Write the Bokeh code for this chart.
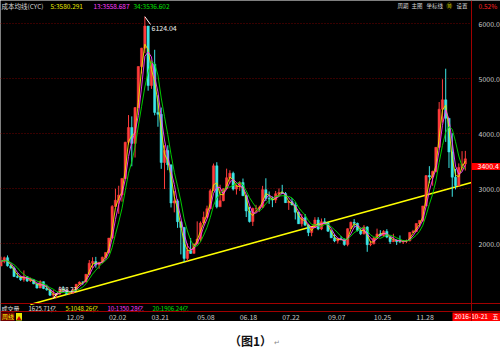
import pandas as pd
from bokeh.plotting import figure
from bokeh.models import Range1d, Label, Span, ColumnDataSource
from bokeh.core.properties import value
from bokeh.layouts import column
from bokeh.embed import file_html
from bokeh.resources import INLINE

# ---------------- data (monthly bars Feb-2004 .. Dec-2015) -------------
first_open = 1590
closes = [1675, 1742, 1595, 1555, 1399, 1386, 1342, 1396, 1320, 1340, 1266,
          1191, 1306, 1181, 1159, 1060, 1080, 1083, 1162, 1155, 1092, 1099, 1161,
          1258, 1299, 1298, 1440, 1641, 1672, 1612, 1658, 1752, 1837, 2099, 2675,
          2786, 2881, 3183, 3841, 4109, 3820, 4471, 5218, 5552, 5954, 4871, 5261,
          4383, 4348, 3473, 3693, 3433, 2736, 2775, 2397, 2293, 1729, 1871, 1820,
          1990, 2082, 2373, 2477, 2633, 2959, 3412, 2667, 2779, 2996, 3195, 3277,
          2989, 3052, 3109, 2870, 2592, 2398, 2638, 2638, 2656, 2979, 2820, 2808,
          2790, 2905, 2928, 2911, 2743, 2762, 2701, 2568, 2359, 2468, 2333, 2199,
          2292, 2428, 2263, 2396, 2373, 2225, 2103, 2047, 2086, 2069, 1980, 2269,
          2385, 2366, 2237, 2177, 2301, 1979, 1994, 2098, 2175, 2141, 2220, 2116,
          2033, 2056, 2033, 2026, 2039, 2048, 2202, 2217, 2364, 2420, 2683, 3235,
          3210, 3310, 3748, 4442, 4612, 4277, 3664, 3206, 3053, 3383, 3445, 3539]
highs = [1760, 1762, 1783, 1620, 1580, 1460, 1410, 1510, 1400, 1380, 1350,
         1270, 1330, 1310, 1250, 1170, 1150, 1090, 1220, 1225, 1160, 1120, 1180,
         1265, 1310, 1310, 1445, 1700, 1750, 1757, 1665, 1760, 1840, 2100, 2698,
         2995, 3050, 3190, 3850, 4335, 4311, 4480, 5220, 5558, 6124.04, 5950, 5328,
         5522, 4695, 4472, 3786, 3786, 3420, 2952, 2805, 2333, 2300, 2000, 2100,
         2000, 2402, 2402, 2580, 2688, 2990, 3454, 3478, 3068, 3002, 3361, 3332,
         3306, 3071, 3132, 3181, 2875, 2667, 2653, 2702, 2688, 3048, 3186, 2946,
         2855, 2955, 3001, 3067, 2935, 2780, 2827, 2752, 2578, 2536, 2536, 2348,
         2297, 2478, 2478, 2454, 2461, 2380, 2242, 2172, 2103, 2137, 2092, 2276,
         2398, 2444, 2380, 2273, 2335, 2314, 2050, 2122, 2270, 2242, 2243, 2260,
         2126, 2177, 2076, 2146, 2062, 2071, 2205, 2248, 2365, 2420, 2683, 3239,
         3406, 3325, 3751, 4572, 4986, 5178, 4184, 4006, 3357, 3457, 3679, 3684]
lows = [1590, 1640, 1580, 1540, 1390, 1370, 1320, 1305, 1300, 1300, 1260,
        1180, 1190, 1170, 1140, 1045, 998.23, 1004, 1070, 1140, 1067, 1074, 1090,
        1160, 1250, 1250, 1295, 1430, 1550, 1560, 1541, 1640, 1740, 1820, 2080,
        2680, 2540, 2760, 3170, 3800, 3404, 3563, 4460, 5090, 5460, 4778, 4812,
        4330, 4123, 3357, 2990, 3333, 2655, 2566, 2284, 1802, 1664, 1679, 1814,
        1844, 2037, 2037, 2350, 2460, 2630, 2960, 2639, 2712, 2767, 2993, 3089,
        2963, 2890, 2956, 2861, 2481, 2382, 2319, 2573, 2575, 2654, 2773, 2721,
        2661, 2735, 2848, 2899, 2740, 2611, 2696, 2437, 2355, 2307, 2323, 2134,
        2132, 2281, 2242, 2243, 2357, 2211, 2099, 2024, 1999, 2058, 1959, 1949,
        2270, 2295, 2218, 2153, 2163, 1849, 1951, 1985, 2101, 2131, 2123, 2097,
        1991, 2026, 1974, 2015, 1991, 2010, 2039, 2191, 2214, 2302, 2390, 2672,
        3095, 3050, 3291, 3744, 4198, 3847, 3373, 2850, 2983, 3040, 3330, 3327]

x_ticks = [20, 33, 46, 60, 73, 86, 100, 114, 127]
x_tick_labels = ["12.09", "02.02", "03.21", "05.08", "06.18", "07.22", "09.07", "10.25", "11.28"]
y_ticks = [2000, 3000, 4000, 5000, 6000]

cyc_labels = ["5:3580.291", "13:3558.687", "34:3536.602"]
cyc_windows = [2, 3, 5]
cyc_colors = ["#e8e800", "#ff3cff", "#00e000"]
vol_labels = ["1625.71亿", "5:1048.26亿", "10:1350.28亿", "20:1906.24亿"]
vol_colors = ["#e0e0e0", "#e8e800", "#ff3cff", "#00e000"]

peak_bar, peak_value = 44, 6124.04
low_bar, low_value = 16, 998.23
last_price = 3400.4
trend_bars = [9.0, 143.9]
trend_prices = [891, 3109]

# ---------------- layout helpers (pixel -> data) ----------------
BAR_PX = 3.27
X0 = -0.15
W, H = 500, 321
CHART_R = 471          # right edge of the price chart (axis line)
Y6000_PX, PX_PER_1000 = 23, 55.0
FONT = "Noto Sans CJK SC"
RED = "#a00000"


def px2bar(px):
    return px / BAR_PX + X0


def py2price(py):
    return 6000 - (py - Y6000_PX) * 1000.0 / PX_PER_1000


n = len(closes)
idx = list(range(n))
opens = [first_open] + closes[:-1]
up = [c >= o for o, c in zip(opens, closes)]
src = ColumnDataSource(dict(
    x=idx, o=opens, c=closes, h=highs, l=lows,
    top=[max(o, c) for o, c in zip(opens, closes)],
    bot=[min(o, c) for o, c in zip(opens, closes)],
    col=["#ff3c3c" if u else "#3ce6e6" for u in up],
))

p = figure(width=W, height=H, output_backend="svg", toolbar_location=None, tools="",
           x_range=Range1d(px2bar(0), px2bar(W)),
           y_range=Range1d(py2price(H), py2price(0)),
           x_axis_location=None, y_axis_location=None,
           min_border=0, background_fill_color="black", border_fill_color="black")
p.outline_line_color = None
p.grid.visible = False


def text(px, py, t, color, size="6.5px", align="left", bold=False):
    p.text(x=[px2bar(px)], y=[py2price(py)], text=[t], text_color=color,
           text_font=value(FONT), text_font_size=size, text_align=align,
           text_baseline="middle", text_font_style="bold" if bold else "normal")


def box(px0, px1, py0, py1, color):
    p.quad(left=[px2bar(px0)], right=[px2bar(px1)], top=[py2price(py0)],
           bottom=[py2price(py1)], fill_color=color, line_color=None)


# horizontal grid at the price ticks (dotted dark red)
p.segment(x0=[px2bar(0)] * len(y_ticks), x1=[px2bar(CHART_R)] * len(y_ticks),
          y0=y_ticks, y1=y_ticks, line_color="#700000", line_dash="1 2", line_width=1)

# right price axis: line + labels
p.add_layout(Span(location=px2bar(CHART_R), dimension="height", line_color=RED, line_width=1))
p.text(x=[px2bar(478)] * len(y_ticks), y=y_ticks, text=[f"{t:.1f}" for t in y_ticks],
       text_color="#c8c8c8", text_font=value(FONT), text_font_size="7px",
       text_align="left", text_baseline="middle")

# panel separators
p.add_layout(Span(location=py2price(303), dimension="width", line_color=RED, line_width=1))
p.add_layout(Span(location=py2price(311), dimension="width", line_color=RED, line_width=1))

# bottom time axis labels
p.text(x=x_ticks, y=[py2price(316)] * len(x_ticks), text=x_tick_labels,
       text_color="#c8c8c8", text_font=value(FONT), text_font_size="7px",
       text_align="left", text_baseline="middle")

# trend line
p.line(trend_bars, trend_prices, line_color="#ffff00", line_width=1.6)

# candles
p.segment(x0="x", y0="l", x1="x", y1="h", color="col", line_width=1, source=src)
p.vbar(x="x", width=0.7, top="top", bottom="bot", fill_color="col", line_color="col",
       line_width=0.5, source=src)

# CYC lines
tp = (pd.Series(highs) + pd.Series(lows) + pd.Series(closes)) / 3.0
for w, colr in zip(cyc_windows, cyc_colors):
    ma = tp.rolling(w, min_periods=1).mean()
    p.line(idx, ma.tolist(), line_color=colr, line_width=1, line_alpha=0.9)

# peak / low markers
p.segment(x0=[peak_bar], y0=[peak_value], x1=[px2bar(150)], y1=[py2price(24)],
          line_color="white", line_width=1)
text(151, 27, f"{peak_value:.2f}", "#f0f0f0", size="7px")
p.segment(x0=[low_bar], y0=[low_value], x1=[px2bar(57)], y1=[py2price(292)],
          line_color="white", line_width=1)
text(58, 289, f"{low_value:.2f}", "#f0f0f0", size="6px")

# header row
text(1, 5, "成本均线(CYC)", "#d8d8d8")
for px, t, colr in zip([50, 93, 133], cyc_labels, cyc_colors):
    text(px, 5, t, colr)
for px, t in zip([397, 411, 426, 456], ["周期", "主图", "坐标线", "设置"]):
    text(px, 5, t, "#d8d8d8", size="5.5px")
text(446, 5, "⑩", "#e8e800", size="5.5px")
text(478, 5, "0.52%", "#ff2020", size="6.5px")

# current price tag on the right axis
box(471.5, 500, py2price_inv := 162.5, 169.5, "#ff0000") if False else box(471.5, 500, 162.5, 169.5, "#ff0000")
p.text(x=[px2bar(477)], y=[last_price], text=[f"{last_price:.1f}"], text_color="#ffffff",
       text_font=value(FONT), text_font_size="7px", text_align="left", text_baseline="middle")

# volume row
text(1, 307.5, "成交量", "#e0e0e0", size="6px")
for px, t, colr in zip([28, 65, 107, 152], vol_labels, vol_colors):
    text(px, 307.5, t, colr, size="6px")

# bottom row
box(0, 14, 312, 320.5, "#700000")
text(1.5, 316, "周线", "#ffff00", size="6px")
box(15.5, 21.5, 312.5, 320, "#e8e800")
text(18.5, 316.5, "▲", "#c00000", size="5px", align="center")
box(452, 500, 312, 320.5, "#ff0000")
text(454, 316, "2016-10-21", "#ffffff", size="6.5px")
text(492, 316, "五", "#ffffff", size="6px")

# caption
cap = figure(width=W, height=30, output_backend="svg", toolbar_location=None, tools="",
             x_range=Range1d(0, W), y_range=Range1d(0, 30),
             min_border=0, background_fill_color="white", border_fill_color="white")
cap.outline_line_color = None
cap.axis.visible = False
cap.grid.visible = False
cap.add_layout(Label(x=250, y=11, text="（图1）", text_color="#111111", text_font_size="12px",
                     text_font=FONT, text_font_style="bold", text_align="center",
                     text_baseline="middle"))
cap.add_layout(Label(x=273, y=10, text="↵", text_color="#888888", text_font_size="7px",
                     text_font=FONT, text_align="left", text_baseline="middle"))

layout = column(p, cap, spacing=0)
open("out.html", "w").write(file_html(layout, INLINE))
